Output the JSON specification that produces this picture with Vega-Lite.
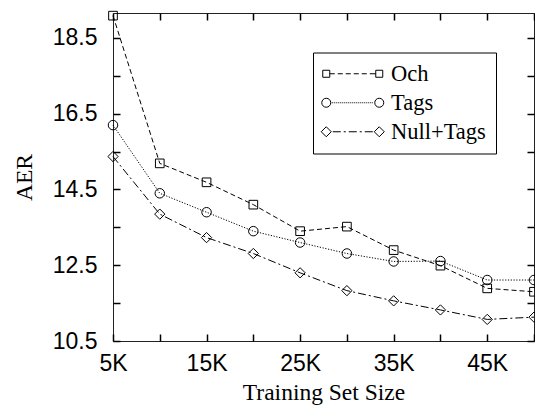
{
  "$schema": "https://vega.github.io/schema/vega-lite/v6.json",
  "width": 421,
  "height": 328,
  "autosize": {"type": "none"},
  "padding": {"left": 113, "top": 13, "right": 1, "bottom": 66},
  "background": "white",
  "config": {
    "view": {"stroke": "#222", "strokeWidth": 1},
    "axis": {
      "grid": false,
      "domain": false,
      "labelFont": "Liberation Sans",
      "labelFontSize": 23,
      "labelColor": "black",
      "titleFont": "Liberation Serif",
      "titleFontSize": 23.5,
      "titleFontWeight": "normal",
      "titleColor": "black"
    }
  },
  "data": {
    "values": [
      {"k": 5, "aer": 19.09, "series": "Och"},
      {"k": 10, "aer": 15.19, "series": "Och"},
      {"k": 15, "aer": 14.69, "series": "Och"},
      {"k": 20, "aer": 14.10, "series": "Och"},
      {"k": 25, "aer": 13.40, "series": "Och"},
      {"k": 30, "aer": 13.52, "series": "Och"},
      {"k": 35, "aer": 12.90, "series": "Och"},
      {"k": 40, "aer": 12.49, "series": "Och"},
      {"k": 45, "aer": 11.89, "series": "Och"},
      {"k": 50, "aer": 11.80, "series": "Och"},
      {"k": 5, "aer": 16.20, "series": "Tags"},
      {"k": 10, "aer": 14.40, "series": "Tags"},
      {"k": 15, "aer": 13.90, "series": "Tags"},
      {"k": 20, "aer": 13.40, "series": "Tags"},
      {"k": 25, "aer": 13.10, "series": "Tags"},
      {"k": 30, "aer": 12.81, "series": "Tags"},
      {"k": 35, "aer": 12.60, "series": "Tags"},
      {"k": 40, "aer": 12.61, "series": "Tags"},
      {"k": 45, "aer": 12.11, "series": "Tags"},
      {"k": 50, "aer": 12.11, "series": "Tags"},
      {"k": 5, "aer": 15.37, "series": "Null+Tags"},
      {"k": 10, "aer": 13.85, "series": "Null+Tags"},
      {"k": 15, "aer": 13.23, "series": "Null+Tags"},
      {"k": 20, "aer": 12.81, "series": "Null+Tags"},
      {"k": 25, "aer": 12.30, "series": "Null+Tags"},
      {"k": 30, "aer": 11.83, "series": "Null+Tags"},
      {"k": 35, "aer": 11.56, "series": "Null+Tags"},
      {"k": 40, "aer": 11.32, "series": "Null+Tags"},
      {"k": 45, "aer": 11.07, "series": "Null+Tags"},
      {"k": 50, "aer": 11.13, "series": "Null+Tags"}
    ]
  },
  "layer": [
    {
      "mark": {"type": "line", "color": "black", "strokeWidth": 1},
      "encoding": {
        "x": {
          "field": "k", "type": "quantitative",
          "scale": {"domain": [5, 50], "nice": false, "zero": false},
          "axis": {
            "orient": "bottom",
            "values": [5, 10, 15, 20, 25, 30, 35, 40, 45, 50],
            "labelExpr": "datum.value % 10 == 5 ? datum.value + 'K' : ''",
            "labelFlush": false,
            "ticks": true,
            "tickSize": -7,
            "tickWidth": 1.5,
            "tickColor": "black",
            "labelPadding": 18,
            "title": "Training Set Size",
            "titlePadding": 5
          }
        },
        "y": {
          "field": "aer", "type": "quantitative",
          "scale": {"domain": [10.5, 19.16], "nice": false, "zero": false},
          "axis": {
            "orient": "left",
            "values": [10.5, 11.5, 12.5, 13.5, 14.5, 15.5, 16.5, 17.5, 18.5],
            "labelExpr": "(datum.value - 10.5) % 2 == 0 ? format(datum.value, '.1f') : ''",
            "labelFlush": false,
            "ticks": true,
            "tickSize": -7,
            "tickWidth": 1.5,
            "tickColor": "black",
            "labelPadding": 23,
            "title": "AER",
            "titlePadding": 16
          }
        },
        "strokeDash": {
          "field": "series", "type": "nominal",
          "scale": {"domain": ["Och", "Tags", "Null+Tags"], "range": [[5, 3], [1.2, 1.6], [8, 3, 2, 3]]},
          "legend": null
        }
      }
    },
    {
      "mark": {"type": "point", "filled": false, "color": "black", "strokeWidth": 1, "opacity": 1},
      "encoding": {
        "x": {
          "field": "k", "type": "quantitative",
          "axis": {
            "orient": "top",
            "values": [5, 10, 15, 20, 25, 30, 35, 40, 45, 50],
            "labels": false,
            "ticks": true,
            "tickSize": -7,
            "tickWidth": 1.5,
            "tickColor": "black",
            "title": null
          }
        },
        "y": {
          "field": "aer", "type": "quantitative",
          "axis": {
            "orient": "right",
            "values": [10.5, 11.5, 12.5, 13.5, 14.5, 15.5, 16.5, 17.5, 18.5],
            "labels": false,
            "ticks": true,
            "tickSize": -7,
            "tickWidth": 1.5,
            "tickColor": "black",
            "title": null
          }
        },
        "shape": {
          "field": "series", "type": "nominal",
          "scale": {"domain": ["Och", "Tags", "Null+Tags"], "range": ["square", "circle", "diamond"]},
          "legend": null
        },
        "size": {
          "field": "series", "type": "nominal",
          "scale": {"domain": ["Och", "Tags", "Null+Tags"], "range": [75, 105, 110]},
          "legend": null
        }
      }
    },
    {
      "mark": {"type": "point", "filled": false, "opacity": 0},
      "encoding": {
        "x": {"field": "k", "type": "quantitative", "axis": null},
        "y": {"field": "aer", "type": "quantitative", "axis": null},
        "shape": {
          "field": "series", "type": "nominal",
          "scale": {
            "domain": ["Och", "Tags", "Null+Tags"],
            "range": [
              "M-6,-0.7 h1.4 v1.4 h-1.4 Z M4.6,-0.7 h1.4 v1.4 h-1.4 Z M-4.6,0 h1 M-3,0 h1 M-1.4,0 h1 M0.2,0 h1 M1.8,0 h1 M3.4,0 h1.2",
              "M-6.2,0 a0.9,0.9 0 1,0 1.8,0 a0.9,0.9 0 1,0 -1.8,0 Z M4.4,0 a0.9,0.9 0 1,0 1.8,0 a0.9,0.9 0 1,0 -1.8,0 Z M-4.2,0 h0.2 M-3.8,0 h0.2 M-3.4,0 h0.2 M-3,0 h0.2 M-2.6,0 h0.2 M-2.2,0 h0.2 M-1.8,0 h0.2 M-1.4,0 h0.2 M-1,0 h0.2 M-0.6,0 h0.2 M-0.2,0 h0.2 M0.2,0 h0.2 M0.6,0 h0.2 M1,0 h0.2 M1.4,0 h0.2 M1.8,0 h0.2 M2.2,0 h0.2 M2.6,0 h0.2 M3,0 h0.2 M3.4,0 h0.2 M3.8,0 h0.2",
              "M-6.3,0 L-5.3,-1 L-4.3,0 L-5.3,1 Z M4.3,0 L5.3,-1 L6.3,0 L5.3,1 Z M-4,0 h1.6 M-1.8,0 h0.4 M-0.8,0 h1.6 M1.4,0 h0.4 M2.4,0 h1.6"
            ]
          },
          "legend": {
            "orient": "none",
            "legendX": 200,
            "legendY": 39.5,
            "title": null,
            "padding": 10,
            "fillColor": "white",
            "strokeColor": "black",
            "symbolOffset": 18.5,
            "labelOffset": 27,
            "rowPadding": 6,
            "symbolOpacity": 1,
            "symbolStrokeColor": "black",
            "symbolFillColor": "transparent",
            "symbolStrokeWidth": 1,
            "labelFont": "Liberation Serif",
            "labelFontSize": 22.5,
            "labelColor": "black"
          }
        }
      }
    }
  ],
  "resolve": {
    "scale": {"shape": "independent"},
    "axis": {"x": "independent", "y": "independent"}
  }
}
